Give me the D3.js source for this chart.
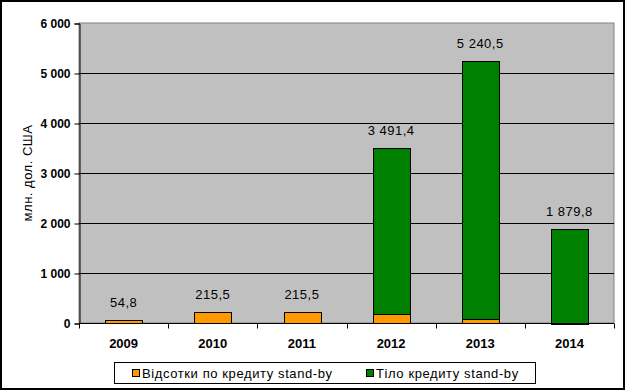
<!DOCTYPE html>
<html>
<head>
<meta charset="utf-8">
<script src="https://cdn.jsdelivr.net/npm/d3@7"></script>
<style>
	body { margin: 0; background: #fff; }
	text { font-family: "Liberation Sans", Arial, sans-serif; }
</style>
</head>
<body>
<svg id="chart" width="626" height="391"></svg>
<script>

// chart values
var years = ["2009", "2010", "2011", "2012", "2013", "2014"];
var interest = [54.8, 215.5, 215.5, 190.0, 75.0, 5.0];
var principal = [0, 0, 0, 3301.4, 5165.5, 1874.8];
var totalLabels = ["54,8", "215,5", "215,5", "3 491,4", "5 240,5", "1 879,8"];
var yTicks = [0, 1000, 2000, 3000, 4000, 5000, 6000];
var seriesNames = ["Відсотки по кредиту stand-by", "Тіло кредиту stand-by"];
var seriesColours = ["#FF9900", "#008000"];

var LEFT = 79, RIGHT = 614, TOP = 23, BOTTOM = 323;

var svg = d3.select("#chart");

// outer frame
svg.append("rect")
	.attr("x", 1).attr("y", 1)
	.attr("width", 623).attr("height", 388)
	.style("fill", "#fff").style("stroke", "#000").style("stroke-width", 2);

var x = d3.scaleBand().domain(years).range([LEFT, RIGHT]).paddingInner(0.59).paddingOuter(0.295);
var xBand = d3.scaleBand().domain(years).range([LEFT, RIGHT]);
var y = d3.scaleLinear().domain([0, 6000]).range([BOTTOM, TOP]);

// plot area
svg.append("rect")
	.attr("x", LEFT).attr("y", TOP)
	.attr("width", RIGHT - LEFT).attr("height", BOTTOM - TOP)
	.style("fill", "#C0C0C0").style("stroke", "#808080");

// gridlines
svg.selectAll("line.grid")
	.data(yTicks.filter(function(d) { return d > 0 && d < 6000; }))
	.enter().append("line")
	.attr("class", "grid")
	.attr("x1", LEFT).attr("x2", RIGHT)
	.attr("y1", function(d) { return Math.round(y(d)) + 0.5; })
	.attr("y2", function(d) { return Math.round(y(d)) + 0.5; })
	.style("stroke", "#000");

// stacked bars
var rows = years.map(function(yr, i) {
	return { year: yr, interest: interest[i], principal: principal[i] };
});
var stack = d3.stack().keys(["interest", "principal"]);
var layers = stack(rows);

svg.selectAll("g.layer")
	.data(layers)
	.enter().append("g")
	.attr("class", "layer")
	.style("fill", function(d, i) { return seriesColours[i]; })
	.selectAll("rect")
	.data(function(d) { return d.filter(function(p) { return p[1] - p[0] > 0; }); })
	.enter().append("rect")
	.attr("x", function(d) { return Math.round(x(d.data.year)) + 0.5; })
	.attr("y", function(d) { return Math.round(y(d[1])) + 0.5; })
	.attr("width", Math.round(x.bandwidth()))
	.attr("height", function(d) { return Math.max(1, Math.round(y(d[0])) - Math.round(y(d[1]))); })
	.style("stroke", "#000");

// value labels
svg.selectAll("text.value")
	.data(rows)
	.enter().append("text")
	.attr("class", "value")
	.attr("x", function(d) { return x(d.year) + x.bandwidth() / 2; })
	.attr("y", function(d) { return y(d.interest + d.principal) - 13; })
	.attr("text-anchor", "middle")
	.style("font-size", "13px")
	.style("letter-spacing", "0.5px")
	.text(function(d, i) { return totalLabels[i]; });

// y axis
var yAxis = d3.axisLeft(y).tickValues(yTicks).tickSize(5).tickPadding(4)
	.tickFormat(function(d) { return d3.format(",")(d).replace(/,/g, " "); });
var gy = svg.append("g").attr("transform", "translate(" + (LEFT + 0.5) + ",0.5)").call(yAxis);
gy.selectAll("text").style("font-size", "12px").style("font-weight", "bold").style("font-family", "Liberation Sans, Arial, sans-serif");
gy.selectAll("line, path").style("stroke", "#000");

// x axis
var xAxis = d3.axisBottom(xBand).tickSize(0).tickPadding(15);
var gx = svg.append("g").attr("transform", "translate(0," + (BOTTOM + 0.5) + ")").call(xAxis);
gx.select("path.domain").attr("d", "M" + LEFT + ",0H" + RIGHT).style("stroke", "#000");
gx.selectAll("text").style("font-size", "13px").style("font-weight", "bold").style("font-family", "Liberation Sans, Arial, sans-serif");
gx.selectAll("line.sep")
	.data(years.concat(["end"]))
	.enter().append("line")
	.attr("class", "sep")
	.attr("x1", function(d, i) { return Math.round(LEFT + i * xBand.step()) + 0.5; })
	.attr("x2", function(d, i) { return Math.round(LEFT + i * xBand.step()) + 0.5; })
	.attr("y1", 0).attr("y2", 5)
	.style("stroke", "#000");

// y axis title
svg.append("text")
	.attr("transform", "translate(32,173) rotate(-90)")
	.attr("text-anchor", "middle")
	.style("font-size", "13px")
	.style("letter-spacing", "0.5px")
	.text("млн. дол. США");

// legend
var legend = svg.append("g");
legend.append("rect")
	.attr("x", 114.5).attr("y", 362.5)
	.attr("width", 421).attr("height", 21)
	.style("fill", "#fff").style("stroke", "#000");

var legendX = [132, 366];
var items = legend.selectAll("g.item")
	.data(seriesNames)
	.enter().append("g")
	.attr("class", "item")
	.attr("transform", function(d, i) { return "translate(" + legendX[i] + ",369)"; });
items.append("rect")
	.attr("x", 0.5).attr("y", 0.5)
	.attr("width", 7).attr("height", 7)
	.style("fill", function(d, i) { return seriesColours[i]; })
	.style("stroke", "#000");
items.append("text")
	.attr("x", 10).attr("y", 9)
	.style("font-size", "13px")
	.style("letter-spacing", "0.6px")
	.text(function(d) { return d; });

</script>
</body>
</html>
